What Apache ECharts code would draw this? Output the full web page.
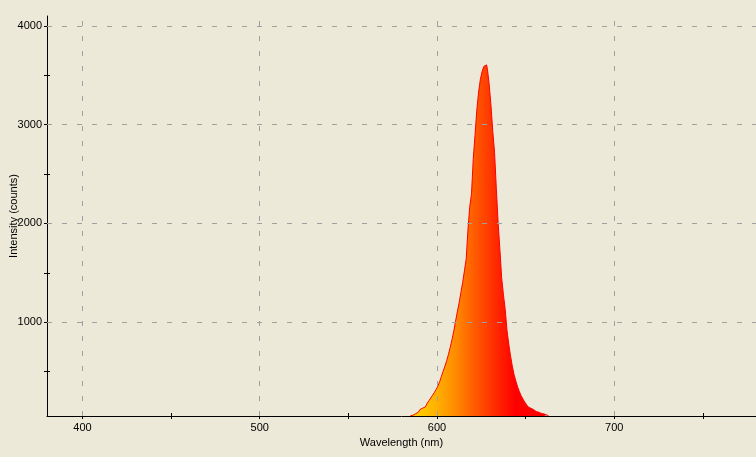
<!DOCTYPE html>
<html>
<head>
<meta charset="utf-8">
<script src="https://cdn.jsdelivr.net/npm/echarts@6/dist/echarts.min.js"></script>
<style>
  html, body { margin: 0; padding: 0; background: #ece9d8; }
  #chart { width: 756px; height: 457px; }
</style>
</head>
<body>
<div id="chart"></div>
<script>
// spectrum (nm / counts)
var wavelengths = [585, 586, 587, 588, 589, 590, 591, 592, 593, 594, 595, 596, 597, 598, 599,
  600, 601, 602, 603, 604, 605, 606, 607, 608, 609, 610, 611, 612, 613, 614, 615, 616, 617, 618, 619,
  620, 621, 622, 623, 624, 625, 626, 627, 628, 629, 630, 631, 632, 633, 634, 635, 636, 637, 638, 639,
  640, 641, 642, 643, 644, 645, 646, 647, 648, 649, 650, 651, 652, 653, 654, 655, 656, 657, 658, 659,
  660, 661, 662, 663];
var counts = [52, 58, 66, 74, 88, 102, 117, 130, 142, 158, 180, 205, 232, 260, 287,
  317, 352, 396, 450, 503, 555, 610, 675, 745, 825, 910, 1010, 1105, 1195, 1300, 1400, 1520, 1640, 1940, 2170,
  2300, 2660, 2900, 3150, 3330, 3460, 3540, 3590, 3605, 3560, 3400, 3190, 2930, 2720, 2350, 2010, 1740, 1450, 1280, 1130,
  920, 780, 660, 555, 470, 405, 345, 298, 255, 222, 192, 166, 142, 128, 115, 104, 95, 88, 82, 76,
  70, 65, 60, 52];

var xRange = [380, 780];
var yRange = [50, 4100];
var xTicks = [400, 450, 500, 550, 600, 650, 700, 750];
var xLabels = [400, 500, 600, 700];
var yTicks = [500, 1000, 1500, 2000, 2500, 3000, 3500, 4000];
var yLabels = [1000, 2000, 3000, 4000];

var font = 'Liberation Sans, Arial, sans-serif';

var points = wavelengths.map(function (w, i) { return [w, counts[i]]; });

var gridMarks = xLabels.map(function (v) { return { xAxis: v }; })
  .concat(yLabels.map(function (v) { return { yAxis: v }; }));

function plain(v) { return String(v); }

function axisBase(range) {
  return {
    type: 'value',
    min: range[0],
    max: range[1]
  };
}

var chart = echarts.init(document.getElementById('chart'));
chart.setOption({
  backgroundColor: '#ece9d8',
  animation: false,
  grid: { left: 47, right: 0, top: 16, bottom: 41, containLabel: false, outerBoundsMode: 'none' },
  xAxis: [
    Object.assign(axisBase(xRange), {
      position: 'bottom',
      name: 'Wavelength (nm)',
      nameLocation: 'middle',
      nameGap: 20,
      nameTextStyle: { color: '#000', fontFamily: font, fontSize: 11 },
      axisLine: { show: true, lineStyle: { color: '#000', width: 1 } },
      axisTick: { show: true, length: 3, customValues: xTicks, lineStyle: { color: '#000' } },
      axisLabel: { show: true, margin: 6, customValues: xLabels, formatter: plain, color: '#000', fontFamily: font, fontSize: 11 },
      splitLine: { show: false }
    }),
    Object.assign(axisBase(xRange), {
      position: 'bottom',
      axisLine: { show: false },
      axisTick: { show: true, inside: true, length: 3, customValues: xTicks, lineStyle: { color: '#000' } },
      axisLabel: { show: false },
      splitLine: { show: false }
    })
  ],
  yAxis: [
    Object.assign(axisBase(yRange), {
      position: 'left',
      name: 'Intensity (counts)',
      nameLocation: 'middle',
      nameGap: 28,
      nameMoveOverlap: false,
      nameTextStyle: { color: '#000', fontFamily: font, fontSize: 11 },
      axisLine: { show: true, lineStyle: { color: '#000', width: 1 } },
      axisTick: { show: true, length: 3, customValues: yTicks, lineStyle: { color: '#000' } },
      axisLabel: { show: true, margin: 5, customValues: yLabels, formatter: plain, color: '#000', fontFamily: font, fontSize: 11 },
      splitLine: { show: false }
    }),
    Object.assign(axisBase(yRange), {
      position: 'left',
      axisLine: { show: false },
      axisTick: { show: true, inside: true, length: 3, customValues: yTicks, lineStyle: { color: '#000' } },
      axisLabel: { show: false },
      splitLine: { show: false }
    })
  ],
  series: [{
    type: 'line',
    data: points,
    step: 'middle',
    symbol: 'none',
    clip: true,
    lineStyle: { color: '#ff0000', width: 1 },
    areaStyle: {
      origin: 'start',
      opacity: 1,
      color: new echarts.graphic.LinearGradient(0, 0, 1, 0, [
        { offset: 0, color: '#ffd400' },
        { offset: 0.1, color: '#ffc400' },
        { offset: 0.2, color: '#ffae00' },
        { offset: 0.33, color: '#ff8a00' },
        { offset: 0.45, color: '#ff6000' },
        { offset: 0.55, color: '#ff4000' },
        { offset: 0.65, color: '#ff2000' },
        { offset: 0.76, color: '#ff0000' },
        { offset: 1, color: '#ff0000' }
      ])
    },
    markLine: {
      silent: true,
      symbol: 'none',
      label: { show: false },
      animation: false,
      lineStyle: { color: '#a0a0a0', type: [5, 10], width: 1 },
      data: gridMarks
    }
  }]
});
</script>
</body>
</html>
